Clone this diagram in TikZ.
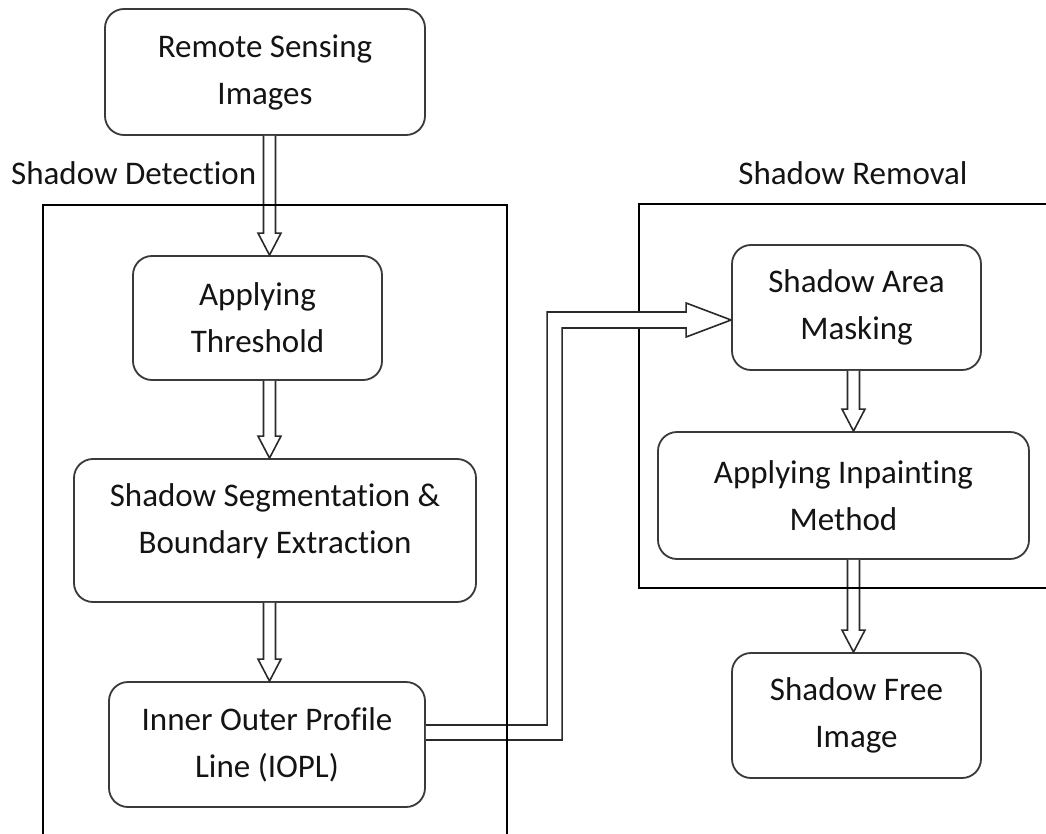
\documentclass[tikz,border=0pt]{standalone}
\usepackage{fontspec}
\setmainfont{Carlito}[Ligatures=NoCommon]
\usetikzlibrary{calc}
\definecolor{boxgray}{HTML}{3A3A3A}
\definecolor{arrowgray}{HTML}{2A2A2A}
\definecolor{txt}{HTML}{141414}
\newcommand{\hollowdown}[3]{%
  \draw[hollow] ($(#1.south -| #3)+(-6,0)$) -- ($(#2.north -| #3)+(-6,-22)$) -- ($(#2.north -| #3)+(-11.5,-22)$)
    -- (#2.north -| #3) -- ($(#2.north -| #3)+(11.5,-22)$) -- ($(#2.north -| #3)+(6,-22)$) -- ($(#1.south -| #3)+(6,0)$);}
\begin{document}
\begin{tikzpicture}[x=1pt,y=-1pt,
  box/.style={draw=boxgray, line width=1.8pt, rounded corners=19pt, fill=white, align=center,
    inner sep=0pt, font=\fontsize{33pt}{47pt}\selectfont, text=txt},
  frame/.style={draw=black, line width=1.8pt},
  hollow/.style={draw=arrowgray, line width=1.6pt, fill=white, line join=miter},
  lbl/.style={font=\fontsize{33pt}{47pt}\selectfont, inner sep=0pt, anchor=base, text=txt}]
\useasboundingbox (0,0) rectangle (1046,834);
\fill[white] (0,0) rectangle (1046,834);

% labels
\node[lbl, anchor=base west] (ldet) at (11,185) {Shadow Detection};
\node[lbl] (lrem) at (853,185) {Shadow Removal};

% boxes
\node[box, minimum width=320, minimum height=126] (rs) at (265,72) {Remote Sensing\\Images};
\node[box, minimum width=249, minimum height=124] (thr) at (257.5,318) {Applying\\Threshold};
\node[box, minimum width=402, minimum height=143, text depth=24.5pt] (seg) at (275,530.5) {Shadow Segmentation \&\\Boundary Extraction};
\node[box, minimum width=316, minimum height=125] (iopl) at (267,744.5) {Inner Outer Profile\\Line (IOPL)};
\node[box, minimum width=249, minimum height=125] (mask) at (856.5,307.5) {Shadow Area\\Masking};
\node[box, minimum width=371, minimum height=127] (inp) at (843.5,495.5) {Applying Inpainting\\Method};
\node[box, minimum width=249, minimum height=125] (free) at (856.5,715.5) {Shadow Free\\Image};

\coordinate (lx) at (269.5,0);
\coordinate (rx) at (853.5,0);

% vertical hollow arrows
\hollowdown{rs}{thr}{lx}
\hollowdown{thr}{seg}{lx}
\hollowdown{seg}{iopl}{lx}
\hollowdown{mask}{inp}{rx}
\hollowdown{inp}{free}{rx}

% shadow removal frame
\draw[frame] (1050,204) -- (639,204) -- (639,588) -- (1050,588);

% bent hollow arrow
\coordinate (tip) at ($(mask.west)+(0,12.5)$);
\draw[hollow] ($(iopl.east)+(0,-19.5)$) -| ($(tip)+(-184,-8)$) -- ($(tip)+(-45,-8)$) -- ($(tip)+(-45,-17)$)
  -- (tip) -- ($(tip)+(-45,17)$) -- ($(tip)+(-45,8)$) -- ($(tip)+(-169,8)$) |- ($(iopl.east)+(0,-4.5)$);

% shadow detection frame
\draw[frame] (43,840) -- (43,205) -- (507,205) -- (507,840);
\end{tikzpicture}
\end{document}
